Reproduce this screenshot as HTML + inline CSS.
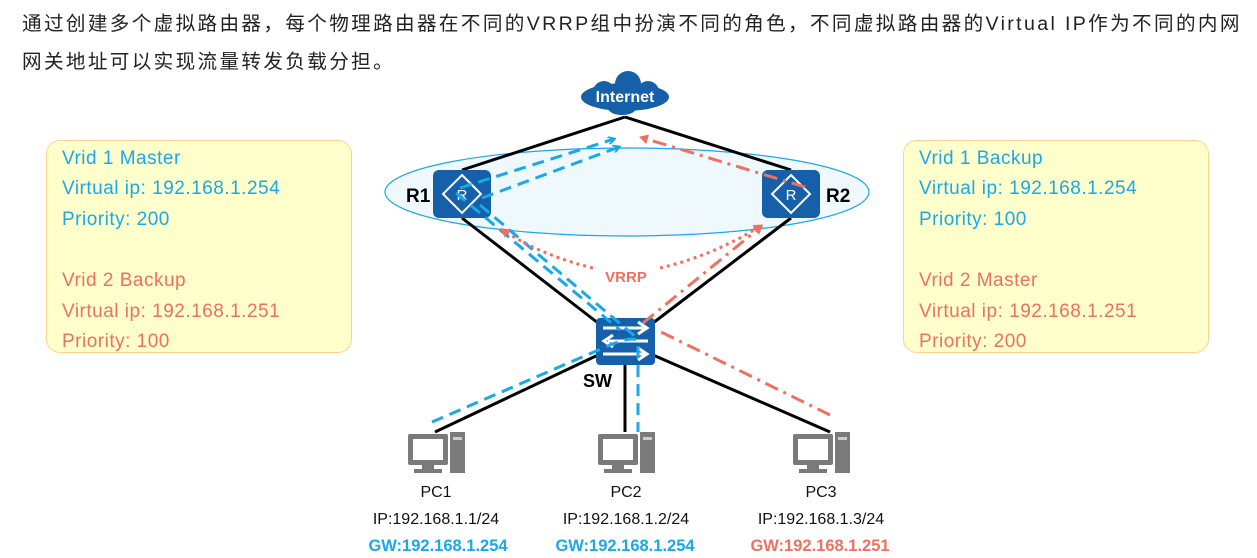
<!DOCTYPE html>
<html><head><meta charset="utf-8"><style>
body{margin:0;width:1257px;height:558px;background:#fff;overflow:hidden;position:relative;font-family:"Liberation Sans","Noto Sans CJK SC",sans-serif}
.h{position:absolute;left:22px;font-size:19.6px;letter-spacing:2.35px;color:#222;white-space:nowrap;line-height:24px}
.box{position:absolute;top:140px;width:306px;height:213px;background:#ffffcc;border:1.5px solid #fcd28c;border-radius:14px;box-sizing:border-box}
.box div{position:absolute;left:15px;font-size:19px;letter-spacing:0.5px;white-space:nowrap;line-height:22px}
.b{color:#1aa8e8}.r{color:#ee705f}
</style></head><body>
<div class="h" style="top:12px">通过创建多个虚拟路由器，每个物理路由器在不同的VRRP组中扮演不同的角色，不同虚拟路由器的Virtual IP作为不同的内网</div>
<div class="h" style="top:50px">网关地址可以实现流量转发负载分担。</div>
<div class="box" style="left:46px">
<div class="b" style="top:7px">Vrid 1 Master</div>
<div class="b" style="top:37px">Virtual ip: 192.168.1.254</div>
<div class="b" style="top:68px">Priority: 200</div>
<div class="r" style="top:129px">Vrid 2 Backup</div>
<div class="r" style="top:160px">Virtual ip: 192.168.1.251</div>
<div class="r" style="top:190px">Priority: 100</div>
</div>
<div class="box" style="left:903px">
<div class="b" style="top:7px">Vrid 1 Backup</div>
<div class="b" style="top:37px">Virtual ip: 192.168.1.254</div>
<div class="b" style="top:68px">Priority: 100</div>
<div class="r" style="top:129px">Vrid 2 Master</div>
<div class="r" style="top:160px">Virtual ip: 192.168.1.251</div>
<div class="r" style="top:190px">Priority: 200</div>
</div>
<svg width="1257" height="558" style="position:absolute;left:0;top:0" font-family="Liberation Sans, sans-serif">
<defs>
<marker id="ab" markerWidth="8" markerHeight="8" refX="6" refY="4" orient="auto" markerUnits="userSpaceOnUse"><path d="M0,0 L7,4 L0,8" fill="none" stroke="#1aa8e8" stroke-width="2"/></marker>
<marker id="ar" markerWidth="10" markerHeight="10" refX="8" refY="5" orient="auto" markerUnits="userSpaceOnUse"><path d="M0,0 L9,5 L0,10z" fill="#ee705f"/></marker>
</defs>
<ellipse cx="627" cy="192" rx="242" ry="44" fill="#eef8fd" stroke="#1aa8e8" stroke-width="1.2"/>
<g stroke="#000" stroke-width="3">
<line x1="625" y1="117" x2="462" y2="170"/><line x1="625" y1="117" x2="791" y2="170"/>
<line x1="462" y1="218" x2="598" y2="323"/><line x1="791" y1="218" x2="653" y2="323"/>
<line x1="598" y1="355" x2="435" y2="432"/><line x1="625" y1="362" x2="625" y2="432"/><line x1="653" y1="355" x2="830" y2="432"/>
</g>
<g fill="#1560a8"><ellipse cx="625" cy="97" rx="44" ry="14"/><circle cx="604" cy="92" r="11"/><circle cx="628" cy="84" r="13"/><circle cx="648" cy="92" r="11"/><ellipse cx="622" cy="108" rx="14" ry="7"/></g>
<text x="625" y="102" fill="#fff" font-size="16" font-weight="bold" text-anchor="middle">Internet</text>
<g><rect x="433" y="170" width="58" height="48" rx="6" fill="#1560a8"/><path d="M462,175 L481,194 L462,213 L443,194z" fill="none" stroke="#fff" stroke-width="2"/><text x="462" y="200" fill="#fff" font-size="15" text-anchor="middle">R</text></g>
<g><rect x="762" y="170" width="58" height="48" rx="6" fill="#1560a8"/><path d="M791,175 L810,194 L791,213 L772,194z" fill="none" stroke="#fff" stroke-width="2"/><text x="791" y="200" fill="#fff" font-size="15" text-anchor="middle">R</text></g>
<text x="406" y="202" font-size="19" font-weight="bold">R1</text>
<text x="826" y="202" font-size="19" font-weight="bold">R2</text>
<rect x="596" y="318" width="59" height="47" rx="4" fill="#1560a8"/>
<g stroke="#fff" stroke-width="3" fill="none"><line x1="603" y1="328" x2="645" y2="328"/><path d="M638,322 L647,328 L638,334"/><line x1="608" y1="341" x2="648" y2="341"/><path d="M613,335 L604,341 L613,347"/><line x1="603" y1="354" x2="645" y2="354"/><path d="M638,348 L647,354 L638,360"/></g>
<text x="583" y="387" font-size="18" font-weight="bold">SW</text>
<g stroke="#1aa8e8" stroke-width="3" fill="none" stroke-dasharray="12,7">
<line x1="460" y1="188" x2="614" y2="139" marker-end="url(#ab)"/>
<line x1="482" y1="198" x2="619" y2="147" marker-end="url(#ab)"/>
<line x1="456" y1="193" x2="620" y2="330"/>
<line x1="480" y1="205" x2="637" y2="338"/>
<path d="M432,422 L610,345 Q640,333 638,345 L638,432"/>
</g>
<g stroke="#ee705f" stroke-width="3" fill="none" stroke-dasharray="14,6,3,6">
<line x1="830" y1="415" x2="657" y2="330"/>
<line x1="643" y1="323" x2="762" y2="226" marker-end="url(#ar)"/>
<line x1="805" y1="187" x2="640" y2="137" marker-end="url(#ar)"/>
</g>
<g stroke="#ee705f" stroke-width="3" fill="none" stroke-dasharray="3,4">
<path d="M593,268 Q540,255 501,229" marker-end="url(#ar)"/>
<path d="M660,268 Q715,255 762,225" marker-end="url(#ar)"/>
</g>
<text x="626" y="282" fill="#ee705f" font-size="15" font-weight="bold" text-anchor="middle">VRRP</text>
<g id="pc">
<rect x="408" y="434" width="40" height="31" rx="2" fill="#7a7a7a"/><rect x="413" y="439" width="30" height="21" fill="#fff"/>
<rect x="422" y="465" width="12" height="4" fill="#7a7a7a"/><rect x="414" y="469" width="28" height="4" fill="#7a7a7a"/>
<rect x="450" y="432" width="15" height="41" fill="#7a7a7a"/><rect x="453" y="437" width="9" height="3" fill="#ccc"/>
</g>
<use href="#pc" x="190"/><use href="#pc" x="385"/>
<g font-size="16" text-anchor="middle" fill="#111">
<text x="436" y="497">PC1</text><text x="626" y="497">PC2</text><text x="821" y="497">PC3</text>
<text x="436" y="524">IP:192.168.1.1/24</text><text x="626" y="524">IP:192.168.1.2/24</text><text x="821" y="524">IP:192.168.1.3/24</text>
</g>
<g font-size="16.5" font-weight="bold" text-anchor="middle">
<text x="438" y="551" fill="#1aa8e8">GW:192.168.1.254</text><text x="625" y="551" fill="#1aa8e8">GW:192.168.1.254</text><text x="820" y="551" fill="#ee705f">GW:192.168.1.251</text>
</g>
</svg>
</body></html>
